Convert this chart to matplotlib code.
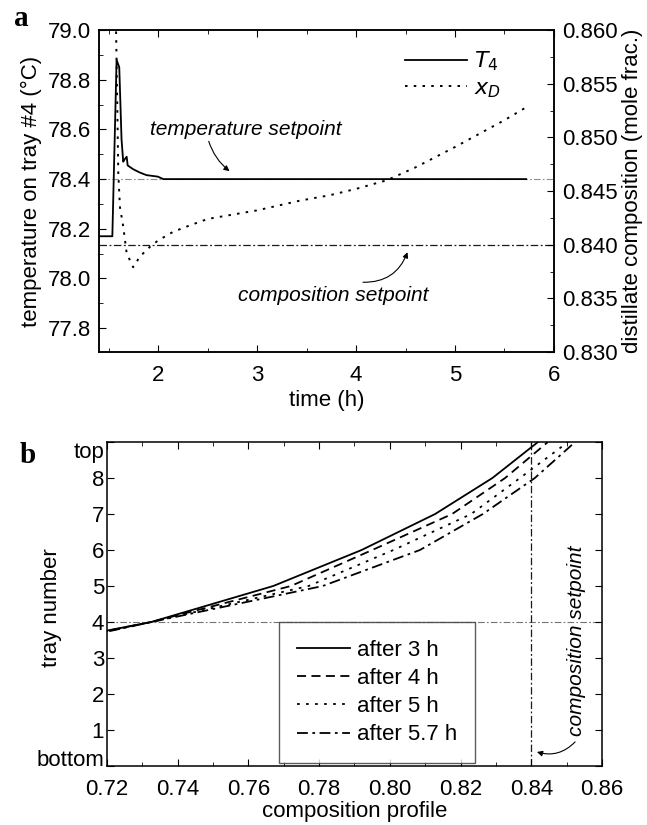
import matplotlib
matplotlib.use('Agg')
import matplotlib.pyplot as plt
from matplotlib.ticker import MultipleLocator, FixedLocator, FormatStrFormatter

plt.rcParams['font.family'] = ['Liberation Sans', 'DejaVu Sans']
plt.rcParams['font.size'] = 16
plt.rcParams['xtick.direction'] = 'in'
plt.rcParams['ytick.direction'] = 'in'
plt.rcParams['xtick.major.pad'] = 9
plt.rcParams['ytick.major.pad'] = 6
plt.rcParams['axes.linewidth'] = 1.1

# ---- panel a data ---------------------------------------------------------
time_T = [1.40, 1.535, 1.578, 1.605, 1.628, 1.645, 1.66, 1.68, 1.69, 1.745,
          1.81, 1.88, 1.995, 2.05, 3.0, 4.0, 5.0, 5.72]
T4 = [78.17, 78.17, 78.88, 78.85, 78.56, 78.47, 78.48, 78.49, 78.455, 78.44,
      78.427, 78.416, 78.41, 78.40, 78.40, 78.40, 78.40, 78.40]

time_x = [1.570, 1.585, 1.595, 1.612, 1.645, 1.680, 1.746, 1.814, 1.915, 1.999,
          2.150, 2.319, 2.5, 3.0, 3.43, 3.73, 4.0, 4.31, 4.6, 5.0, 5.5, 5.72]
xD = [0.8615, 0.8529, 0.8467, 0.8435, 0.8417, 0.8392, 0.8379, 0.8389, 0.8398, 0.8404,
      0.8412, 0.8418, 0.8424, 0.8432, 0.8441, 0.8446, 0.8452, 0.8460, 0.8472, 0.8491,
      0.8516, 0.8528]

T_setpoint = 78.4
x_setpoint = 0.840

# ---- panel b data ---------------------------------------------------------
trays = [3, 4, 5, 6, 7, 8, 9]
tray_labels = ['bottom', '1', '2', '3', '4', '5', '6', '7', '8', 'top']
prof_3h = [0.680, 0.7325, 0.767, 0.792, 0.8128, 0.829, 0.8419]
prof_4h = [0.682, 0.7325, 0.772, 0.795, 0.8176, 0.8326, 0.8447]
prof_5h = [0.684, 0.7325, 0.777, 0.801, 0.8230, 0.8368, 0.8504]
prof_57h = [0.686, 0.7325, 0.781, 0.8085, 0.8263, 0.8410, 0.8524]
profile_names = ['after 3 h', 'after 4 h', 'after 5 h', 'after 5.7 h']

dashdot = (0, (6, 2, 1.5, 2))
arrow_kw = dict(arrowstyle='-|>', color='k', lw=0.8, mutation_scale=8, shrinkA=0, shrinkB=0)

fig = plt.figure(figsize=(6.47, 8.25), dpi=100)

# %% panel a ----------------------------------------------------------------
ax = fig.add_axes([0.153, 0.5733, 0.703, 0.3903])
ax2 = ax.twinx()

ax.set_xlim(1.4, 6)
ax.set_ylim(77.704, 79.0)
ax2.set_ylim(0.830, 0.860)

ax.axhline(T_setpoint, color='0.55', lw=0.8, ls=dashdot, zorder=1)
ax2.axhline(x_setpoint, color='0.1', lw=0.9, ls=dashdot, zorder=1)

lT, = ax.plot(time_T, T4, color='k', lw=1.3, zorder=3)
lx, = ax2.plot(time_x, xD, color='k', lw=1.4, ls=(0, (1.3, 3.2)), zorder=3)

ax.xaxis.set_major_locator(MultipleLocator(1))
ax.xaxis.set_minor_locator(MultipleLocator(0.5))
ax.yaxis.set_major_locator(MultipleLocator(0.2))
ax.yaxis.set_minor_locator(MultipleLocator(0.1))
ax.yaxis.set_major_formatter(FormatStrFormatter('%.1f'))
ax2.yaxis.set_major_locator(MultipleLocator(0.005))
ax2.yaxis.set_minor_locator(MultipleLocator(0.0025))
ax2.yaxis.set_major_formatter(FormatStrFormatter('%.3f'))
ax.tick_params(which='both', top=True)
for a in (ax, ax2):
    a.tick_params(which='major', length=5)
    a.tick_params(which='minor', length=3)

ax.set_xlabel('time (h)', labelpad=3)
ax.set_ylabel('temperature on tray #4 (°C)', labelpad=4)
ax2.set_ylabel('distillate composition (mole frac.)', labelpad=3)

ax2.legend([lT, lx], [r'$T_4$', r'$x_D$'], loc='upper right', frameon=False,
           bbox_to_anchor=(0.903, 0.966), borderaxespad=0, handlelength=2.8,
           handletextpad=0.3, labelspacing=0.2, fontsize=16)

ax.text(2.885, 78.6, 'temperature setpoint', ha='center', va='center',
        style='italic', fontsize=15)
ax.annotate('', xy=(2.72, 78.432), xytext=(2.51, 78.552),
            arrowprops=dict(connectionstyle='arc3,rad=0.15', **arrow_kw))
ax2.annotate('', xy=(4.52, 0.8393), xytext=(4.07, 0.8365),
             arrowprops=dict(connectionstyle='arc3,rad=0.35', **arrow_kw))
ax2.text(3.77, 0.8353, 'composition setpoint', ha='center', va='center',
         style='italic', fontsize=15)

fig.text(0.022, 0.977, 'a', family='Liberation Serif', weight='bold', fontsize=21,
         va='center', ha='left')

# %% panel b ----------------------------------------------------------------
bx = fig.add_axes([0.1654, 0.0715, 0.765, 0.3927])
bx.set_xlim(0.72, 0.86)
bx.set_ylim(0, 9)

bx.axhline(4, color='0.45', lw=0.8, ls=dashdot, zorder=1)
bx.axvline(x_setpoint, color='0.1', lw=0.9, ls=dashdot, zorder=1)

styles = ['-', (0, (5, 3)), (0, (1.5, 3.5)), (0, (6, 2.5, 1.5, 2.5))]
handles = []
for prof, st, name in zip([prof_3h, prof_4h, prof_5h, prof_57h], styles, profile_names):
    h, = bx.plot(prof, trays, color='k', lw=1.3, ls=st, label=name, zorder=3)
    handles.append(h)

bx.xaxis.set_major_locator(MultipleLocator(0.02))
bx.xaxis.set_minor_locator(MultipleLocator(0.01))
bx.xaxis.set_major_formatter(FormatStrFormatter('%.2f'))
bx.yaxis.set_major_locator(FixedLocator(range(10)))
bx.set_yticklabels(tray_labels)
bx.tick_params(which='both', top=True, right=True)
bx.tick_params(which='major', length=5)
bx.tick_params(which='minor', length=3)
bx.tick_params(axis='y', pad=2)
bx.tick_params(axis='x', which='major', pad=9)

bx.set_xlabel('composition profile', labelpad=1)
bx.set_ylabel('tray number')
bx.yaxis.set_label_coords(-0.091, 0.49)

leg = bx.legend(handles=handles, loc='lower left', bbox_to_anchor=(0.347, 0.009),
                borderaxespad=0, frameon=True, fancybox=False, edgecolor='0.2',
                handlelength=2.4, handletextpad=0.3, labelspacing=0.32,
                borderpad=0.8, fontsize=16)
leg.get_frame().set_linewidth(1.0)
leg.set_zorder(5)

bx.text(0.8529, 3.47, 'composition setpoint', rotation=90, ha='center', va='center',
        style='italic', fontsize=15)
bx.annotate('', xy=(0.8416, 0.39), xytext=(0.8524, 0.67),
            arrowprops=dict(connectionstyle='arc3,rad=-0.3', **arrow_kw))

fig.text(0.030, 0.448, 'b', family='Liberation Serif', weight='bold', fontsize=21,
         va='center', ha='left')

fig.canvas.draw()
ylabs = bx.get_yticklabels()
ylabs[0].set_verticalalignment('baseline')
ylabs[-1].set_verticalalignment('top')

fig.savefig('out.png', dpi=100)
